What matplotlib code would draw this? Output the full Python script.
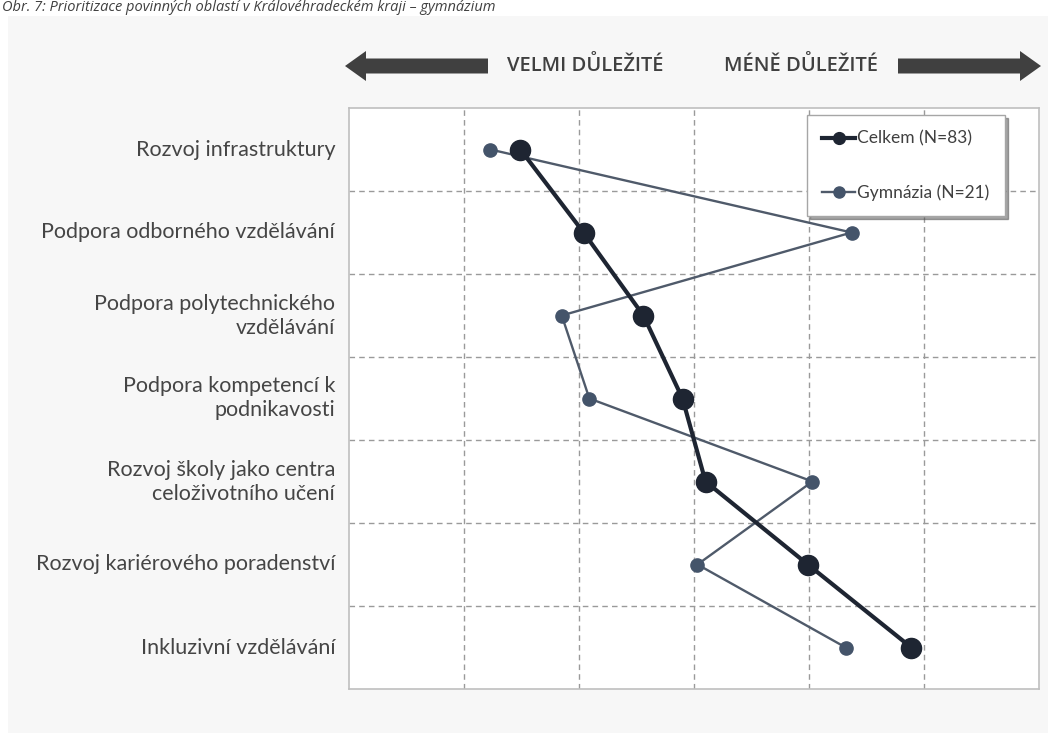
import matplotlib
matplotlib.use("Agg")
import matplotlib.pyplot as plt
from matplotlib.patches import Rectangle, Polygon
from matplotlib.lines import Line2D

categories = [
    "Rozvoj infrastruktury",
    "Podpora odborného vzdělávání",
    "Podpora polytechnického\nvzdělávání",
    "Podpora kompetencí k\npodnikavosti",
    "Rozvoj školy jako centra\nceloživotního učení",
    "Rozvoj kariérového poradenství",
    "Inkluzivní vzdělávání",
]
celkem = [2.49, 3.04, 3.56, 3.90, 4.10, 4.99, 5.89]
gymnazia = [2.23, 5.37, 2.85, 3.09, 5.03, 4.03, 5.32]
series_labels = ["Celkem (N=83)", "Gymnázia (N=21)"]
title = "Obr. 7: Prioritizace povinných oblastí v Královéhradeckém kraji – gymnázium"

W, H = 1048, 733
fig = plt.figure(figsize=(W / 100, H / 100), dpi=100)
fig.patch.set_facecolor("white")

def fx(px):
    return px / W

def fy(py):
    return 1 - py / H

# panel background
fig.patches.append(Rectangle((fx(8), 0), 1 - fx(8), fy(16), transform=fig.transFigure,
                             facecolor="#f7f7f7", edgecolor="none", zorder=-5))

# title
fig.text(fx(2), fy(11), title, fontsize=10.5, style="italic", color="#404040",
         family=["Open Sans", "DejaVu Sans"], ha="left", va="baseline")

# arrows
acol = "#404040"
cy = 66
sh = 7.5
hh = 15
left = [(345, cy), (366, cy - hh), (366, cy - sh), (488, cy - sh), (488, cy + sh), (366, cy + sh), (366, cy + hh)]
right = [(1041, cy), (1020, cy - hh), (1020, cy - sh), (898, cy - sh), (898, cy + sh), (1020, cy + sh), (1020, cy + hh)]
for pts in (left, right):
    fig.patches.append(Polygon([(fx(x), fy(y)) for x, y in pts], closed=True, transform=fig.transFigure,
                               facecolor=acol, edgecolor="none", zorder=2))
fig.text(fx(585), fy(cy), "VELMI DŮLEŽITÉ", fontsize=14.5, weight="semibold", color=acol,
         family="Open Sans", ha="center", va="center")
fig.text(fx(801), fy(cy), "MÉNĚ DŮLEŽITÉ", fontsize=14.5, weight="semibold", color=acol,
         family="Open Sans", ha="center", va="center")

ax = fig.add_axes([fx(349), fy(689), fx(1039) - fx(349), fy(108) - fy(689)])
ax.set_zorder(1)
ax.set_facecolor("white")
n = len(categories)
ypos = list(range(1, n + 1))

ax.set_xlim(1, 7)
ax.set_ylim(n + 0.5, 0.5)
ax.set_xticks([2, 3, 4, 5, 6])
ax.set_yticks([i + 0.5 for i in range(1, n)], minor=False)
ax.tick_params(length=0, labelbottom=False, labelleft=False)
ax.grid(True, color="#9a9a9a", linestyle=(0, (4, 3)), linewidth=1)
ax.set_axisbelow(True)
for s in ax.spines.values():
    s.set_color("#bfbfbf")
    s.set_linewidth(1.2)

for y, lab in zip(ypos, categories):
    ax.text(-0.02, y, lab, transform=ax.get_yaxis_transform(), ha="right", va="center",
            fontsize=15.5, color="#454545", family="Lato", linespacing=1.25)

gcol = "#44546a"
gline = "#4f5a6a"
ccol = "#1e2532"
ax.plot(gymnazia, ypos, color=gline, linewidth=1.7, zorder=3)
ax.plot(gymnazia, ypos, linestyle="none", marker="o", markersize=9.5, color=gcol, zorder=4)
ax.plot(celkem, ypos, color=ccol, linewidth=3.0, zorder=5,
        marker="o", markersize=14.5, markerfacecolor=ccol, markeredgecolor=ccol)

handles = [
    Line2D([], [], color=ccol, linewidth=3.0, marker="o", markersize=8.5),
    Line2D([], [], color=gline, linewidth=1.7, marker="o", markersize=8, markerfacecolor=gcol, markeredgecolor=gcol),
]
leg = ax.legend(handles, series_labels, loc="upper right",
                bbox_to_anchor=((1005 - 349) / 690, 1 - 7 / 581), borderaxespad=0,
                frameon=True, shadow=True, fancybox=False, labelspacing=2.15,
                handlelength=1.9, handletextpad=0.1, borderpad=0.9,
                prop={"family": "Lato", "size": 12.5})
leg.get_frame().set_edgecolor("#a6a6a6")
leg.get_frame().set_linewidth(1)
for t in leg.get_texts():
    t.set_color("#404040")

fig.savefig("out.png", dpi=100, facecolor=fig.get_facecolor())
